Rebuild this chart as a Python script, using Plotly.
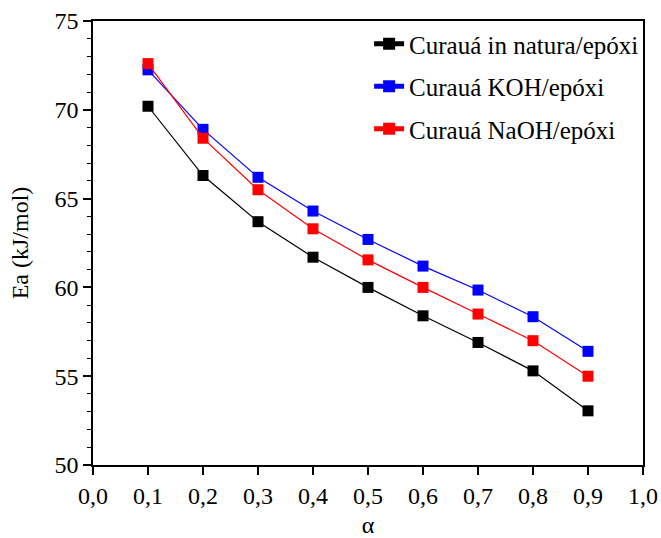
import plotly.graph_objects as go

alpha = [0.1, 0.2, 0.3, 0.4, 0.5, 0.6, 0.7, 0.8, 0.9]
ea_natura = [70.2, 66.3, 63.7, 61.7, 60.0, 58.4, 56.9, 55.3, 53.05]
ea_koh = [72.25, 68.9, 66.2, 64.3, 62.7, 61.2, 59.85, 58.35, 56.4]
ea_naoh = [72.6, 68.4, 65.5, 63.3, 61.55, 60.0, 58.5, 57.0, 55.0]
x_ticks = [0.0, 0.1, 0.2, 0.3, 0.4, 0.5, 0.6, 0.7, 0.8, 0.9, 1.0]
x_tick_labels = ["0,0", "0,1", "0,2", "0,3", "0,4", "0,5", "0,6", "0,7", "0,8", "0,9", "1,0"]

FONT = "Liberation Serif, Times New Roman, serif"

fig = go.Figure()
for i, (name, ys, color) in enumerate([
    ("Curauá in natura/epóxi", ea_natura, "black"),
    ("Curauá KOH/epóxi", ea_koh, "blue"),
    ("Curauá NaOH/epóxi", ea_naoh, "red"),
]):
    fig.add_trace(go.Scatter(
        x=alpha, y=ys, name=name, mode="lines+markers", legendgroup=f"g{i}",
        line=dict(color=color, width=1.2),
        marker=dict(symbol="square", size=11, color=color),
    ))

fig.update_layout(
    width=661, height=538,
    margin=dict(l=93, r=18, t=21, b=73),
    plot_bgcolor="white", paper_bgcolor="white",
    font=dict(family=FONT, size=24, color="black"),
    showlegend=True,
    legend=dict(x=0.502, y=1.0, xanchor="left", yanchor="top",
                bgcolor="rgba(0,0,0,0)", font=dict(family=FONT, size=25),
                tracegroupgap=7, itemsizing="constant"),
    xaxis=dict(
        range=[0, 1], tickvals=x_ticks, ticktext=x_tick_labels,
        showline=True, linecolor="black", linewidth=1.5, mirror=True,
        ticks="outside", ticklen=8, tickwidth=1.5, tickcolor="black",
        showgrid=False, zeroline=False, automargin=False,
        title=dict(text="α", font=dict(family=FONT, size=24), standoff=16),
    ),
    yaxis=dict(
        range=[50, 75], tickvals=[50, 55, 60, 65, 70, 75],
        showline=True, linecolor="black", linewidth=1.5, mirror=True,
        ticks="outside", ticklen=8, tickwidth=1.5, tickcolor="black",
        minor=dict(dtick=1, ticks="outside", ticklen=4, tickwidth=1, tickcolor="black"),
        showgrid=False, zeroline=False, automargin=False,
        title=dict(text="Ea (kJ/mol)", font=dict(family=FONT, size=24), standoff=19),
    ),
)

fig.write_html("out.html")
